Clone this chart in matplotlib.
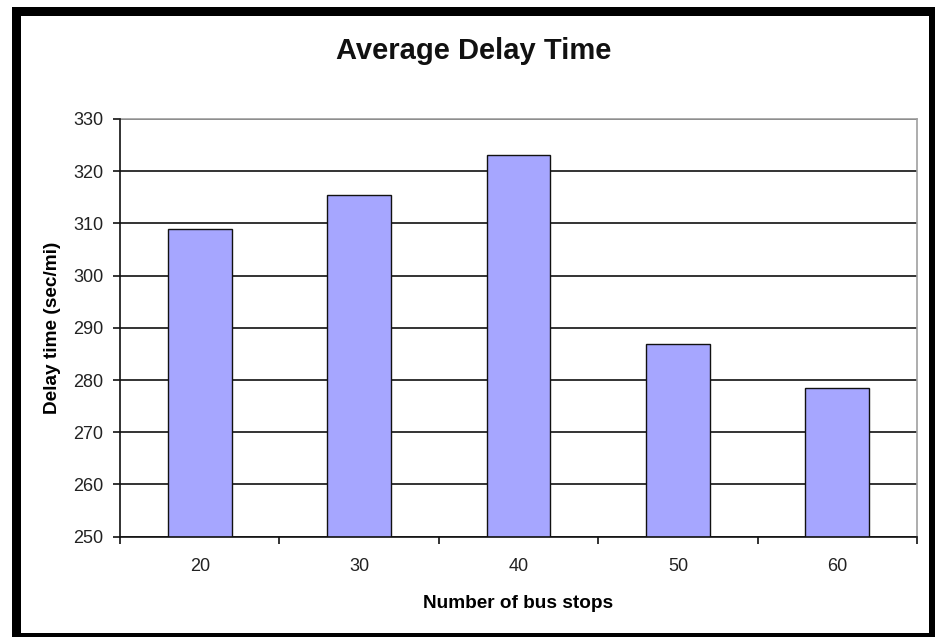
import matplotlib
matplotlib.use("Agg")
import matplotlib.pyplot as plt
from matplotlib.patches import Rectangle
import numpy as np

categories = ["20", "30", "40", "50", "60"]
delay = [308.9, 315.4, 323.2, 287.0, 278.4]
yticks = [250, 260, 270, 280, 290, 300, 310, 320, 330]

plt.rcParams['font.family'] = ['Liberation Sans', 'DejaVu Sans']

W, H = 935, 637
fig = plt.figure(figsize=(W / 100, H / 100), dpi=100)
fig.patch.set_facecolor("white")

left, right, top, bottom = 120, 917, 119, 536.7
ax = fig.add_axes([left / W, 1 - bottom / H, (right - left) / W, (bottom - top) / H])

x = np.arange(len(categories))
ax.bar(x, delay, width=0.4, color="#A6A6FF", edgecolor="#111111", linewidth=1.0, zorder=3)

ax.set_xlim(-0.5, len(categories) - 0.5)
ax.set_ylim(yticks[0], yticks[-1])
ax.set_yticks(yticks)
ax.set_xticks(x)
ax.set_xticklabels(categories)
ax.set_xticks(np.arange(-0.5, len(categories), 1.0), minor=True)

ax.yaxis.grid(True, color="#111111", linewidth=1.2)
ax.set_axisbelow(True)

for s in ["top", "right"]:
    ax.spines[s].set_color("#A0A0A0")
    ax.spines[s].set_linewidth(1.2)
for s in ["left", "bottom"]:
    ax.spines[s].set_color("#111111")
    ax.spines[s].set_linewidth(1.2)
    ax.spines[s].set_zorder(4)

ax.tick_params(axis="y", direction="out", length=5, width=1.2, pad=7,
               labelsize=13, labelcolor="#222222", color="#111111")
ax.tick_params(axis="x", which="major", length=0, pad=15,
               labelsize=13, labelcolor="#222222")
ax.tick_params(axis="x", which="minor", direction="out", length=5, width=1.2, color="#111111")

ax.set_xlabel("Number of bus stops", fontsize=13.7, fontweight="bold", labelpad=15)
ax.set_ylabel("Delay time (sec/mi)", fontsize=13.7, fontweight="bold", labelpad=9)

fig.text(474 / W, 1 - 51 / H, "Average Delay Time", fontsize=21, fontweight="bold",
         ha="center", va="center", color="#111111")

frame = Rectangle((15.5 / W, 1 - 636.5 / H), (932.5 - 15.5) / W, (636.5 - 10.5) / H,
                  transform=fig.transFigure, fill=False, edgecolor="black",
                  linewidth=9 * 72 / 100, zorder=10)
fig.patches.append(frame)

fig.savefig("out.png", dpi=100)
